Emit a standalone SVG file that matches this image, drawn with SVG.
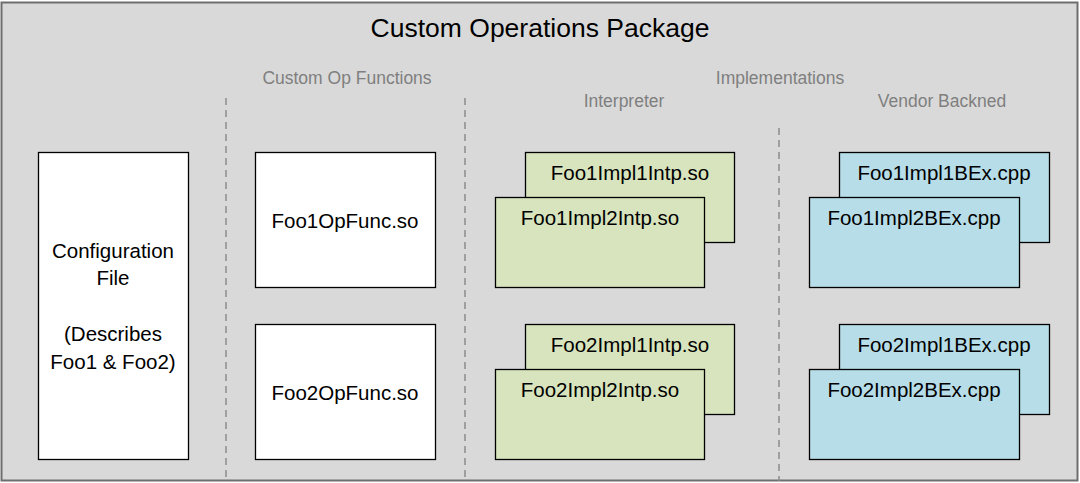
<svg xmlns="http://www.w3.org/2000/svg" width="1080" height="483" viewBox="0 0 1080 483">
<style>
.t{font-family:"Liberation Sans",Arial,sans-serif;fill:#000;text-anchor:middle}
.h{font-family:"Liberation Sans",Arial,sans-serif;fill:#7f7f7f;text-anchor:middle;font-size:17.5px}
.box{stroke:#000;stroke-width:1.3}
.w{fill:#fff}.g{fill:#d7e4bd}.b{fill:#b7dde8}
.dash{stroke:#8c8c8c;stroke-width:1.5;stroke-dasharray:7 5;fill:none}
.n{font-size:20.5px}
</style>
<g id="package">
<rect x="1.5" y="2.5" width="1076" height="478" fill="#d9d9d9" stroke="#6e6e6e" stroke-width="2"/>
<text class="t" x="540" y="37" font-size="26.5">Custom Operations Package</text>
<text class="h" x="347" y="84">Custom Op Functions</text>
<text class="h" x="780" y="84">Implementations</text>
<text class="h" x="624" y="107">Interpreter</text>
<text class="h" x="942" y="107">Vendor Backned</text>
</g>
<g id="connectors">
<line class="dash" x1="226" y1="98" x2="226" y2="481"/>
<line class="dash" x1="465" y1="98" x2="465" y2="481"/>
<line class="dash" x1="779" y1="128" x2="779" y2="481"/>
</g>
<g id="config">
<rect class="box w" x="38.5" y="152.5" width="150" height="307"/>
<text class="t n" x="113" y="258">Configuration</text>
<text class="t n" x="113" y="285">File</text>
<text class="t n" x="113" y="341">(Describes</text>
<text class="t n" x="113" y="369">Foo1 &amp; Foo2)</text>
</g>
<g id="foo1opfunc">
<rect class="box w" x="255.5" y="152.5" width="180" height="135"/>
<text class="t n" x="345" y="228">Foo1OpFunc.so</text>
</g>
<g id="foo2opfunc">
<rect class="box w" x="255.5" y="324.5" width="180" height="135"/>
<text class="t n" x="345" y="400">Foo2OpFunc.so</text>
</g>
<g id="foo1impl1intp">
<rect class="box g" x="525.5" y="152.5" width="209" height="90"/>
<text class="t n" x="630" y="180">Foo1Impl1Intp.so</text>
</g>
<g id="foo1impl2intp">
<rect class="box g" x="495.5" y="197.5" width="209" height="90"/>
<text class="t n" x="600" y="225">Foo1Impl2Intp.so</text>
</g>
<g id="foo2impl1intp">
<rect class="box g" x="525.5" y="324.5" width="209" height="90"/>
<text class="t n" x="630" y="352">Foo2Impl1Intp.so</text>
</g>
<g id="foo2impl2intp">
<rect class="box g" x="495.5" y="369.5" width="209" height="90"/>
<text class="t n" x="600" y="397">Foo2Impl2Intp.so</text>
</g>
<g id="foo1impl1bex">
<rect class="box b" x="839.5" y="152.5" width="210" height="90"/>
<text class="t n" x="944" y="180">Foo1Impl1BEx.cpp</text>
</g>
<g id="foo1impl2bex">
<rect class="box b" x="809.5" y="197.5" width="210" height="90"/>
<text class="t n" x="914" y="225">Foo1Impl2BEx.cpp</text>
</g>
<g id="foo2impl1bex">
<rect class="box b" x="839.5" y="324.5" width="210" height="90"/>
<text class="t n" x="944" y="352">Foo2Impl1BEx.cpp</text>
</g>
<g id="foo2impl2bex">
<rect class="box b" x="809.5" y="369.5" width="210" height="90"/>
<text class="t n" x="914" y="397">Foo2Impl2BEx.cpp</text>
</g>
</svg>
